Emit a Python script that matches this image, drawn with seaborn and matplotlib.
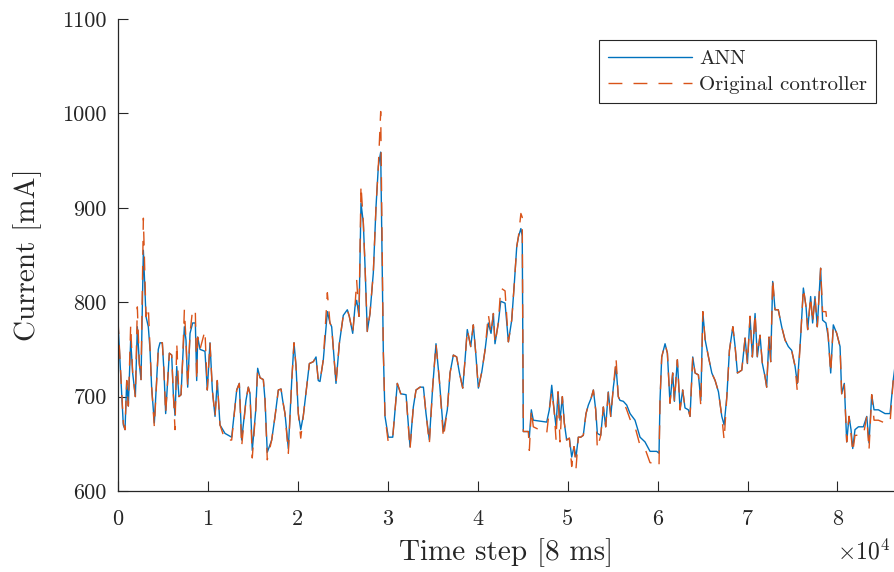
import matplotlib
matplotlib.use("Agg")
import matplotlib.pyplot as plt
import seaborn as sns
import pandas as pd

# ---------------- data ----------------
time_steps = [
    0, 590, 780, 970, 1150, 1410, 1630, 1930, 2150, 2370,
    2560, 2820, 3110, 3370, 3560, 3740, 4040, 4480, 4670, 4930,
    5120, 5300, 5710, 5970, 6150, 6340, 6530, 6780, 7010, 7190,
    7380, 7560, 7750, 8010, 8300, 8600, 8750, 8860, 9120, 9670,
    9930, 10230, 10490, 10790, 11040, 11340, 11900, 12640, 13200, 13490,
    13750, 14230, 14490, 14680, 14930, 15310, 15530, 15790, 16160, 16350,
    16600, 17090, 17460, 17830, 18130, 18310, 18570, 18940, 19320, 19570,
    19790, 20050, 20320, 20610, 20980, 21280, 21720, 22020, 22270, 22460,
    22830, 23280, 23570, 23760, 24240, 24610, 25050, 25500, 25720, 26100,
    26350, 26540, 26800, 27020, 27280, 27470, 27720, 28020, 28390, 28690,
    28950, 29210, 29500, 29690, 30060, 30550, 31060, 31440, 32030, 32470,
    32840, 33140, 33580, 33960, 34250, 34620, 34990, 35360, 35730, 36180,
    36620, 36920, 37290, 37660, 37950, 38330, 38590, 38840, 39220, 39510,
    39780, 40070, 40450, 40810, 41180, 41480, 41740, 41920, 42290, 42560,
    43040, 43410, 43780, 44070, 44340, 44520, 44800, 44950, 45070, 45630,
    45740, 45960, 46180, 47670, 47960, 48230, 48490, 48710, 48930, 49150,
    49410, 49630, 49890, 50190, 50450, 50710, 50930, 51190, 51450, 51740,
    52040, 52300, 52600, 52860, 53120, 53300, 53680, 53970, 54230, 54520,
    54790, 55080, 55380, 55630, 55820, 56190, 56570, 56940, 57490, 58050,
    58600, 59160, 59900, 60160, 60270, 60460, 60830, 61090, 61380, 61680,
    61870, 62200, 62500, 62790, 63050, 63420, 63610, 63910, 64170, 64540,
    64810, 65030, 65290, 65660, 66030, 66400, 66770, 67140, 67400, 67700,
    67990, 68370, 68620, 68880, 69360, 69730, 69990, 70280, 70540, 70840,
    71090, 71390, 71650, 71950, 72130, 72390, 72580, 72800, 73060, 73420,
    73800, 74170, 74540, 74910, 75290, 75540, 75920, 76210, 76510, 76690,
    77020, 77240, 77500, 77760, 78130, 78350, 78720, 78980, 79250, 79540,
    79920, 80290, 80470, 80760, 81030, 81290, 81510, 81700, 81950, 82330,
    82880, 83260, 83510, 83810, 84070, 84550, 85290, 85850, 86210, 86400,
]

ann_current = [
    778, 670, 665, 717, 690, 760, 725, 700, 774, 735,
    718, 855, 785, 774, 750, 710, 672, 750, 757, 757,
    725, 682, 746, 744, 703, 680, 732, 700, 702, 739,
    774, 760, 710, 767, 778, 778, 717, 763, 750, 748,
    707, 757, 707, 679, 717, 670, 661, 657, 707, 714,
    654, 696, 710, 703, 643, 685, 730, 720, 718, 696,
    641, 654, 679, 707, 708, 696, 682, 645, 717, 757,
    733, 682, 665, 680, 710, 735, 737, 742, 717, 716,
    739, 790, 778, 774, 714, 756, 786, 792, 785, 767,
    795, 802, 785, 905, 884, 838, 769, 788, 831, 901,
    944, 959, 749, 679, 657, 657, 714, 703, 702, 647,
    689, 707, 710, 710, 682, 654, 710, 756, 718, 663,
    686, 725, 744, 742, 726, 709, 739, 771, 753, 776,
    746, 709, 726, 749, 778, 767, 788, 756, 778, 801,
    799, 758, 781, 820, 859, 869, 878, 870, 663, 663,
    657, 686, 675, 673, 686, 712, 686, 668, 705, 675,
    700, 672, 654, 656, 636, 647, 636, 657, 657, 659,
    682, 691, 698, 707, 686, 661, 659, 689, 668, 705,
    679, 710, 732, 700, 696, 695, 691, 682, 675, 657,
    652, 642, 642, 640, 696, 742, 756, 746, 693, 725,
    695, 739, 686, 707, 688, 686, 679, 742, 725, 723,
    696, 790, 760, 742, 725, 717, 705, 679, 670, 700,
    749, 774, 753, 725, 728, 762, 735, 785, 742, 788,
    742, 765, 735, 721, 710, 763, 737, 822, 792, 792,
    774, 760, 753, 749, 732, 714, 765, 815, 795, 771,
    806, 778, 806, 774, 836, 781, 778, 763, 725, 776,
    767, 753, 703, 714, 652, 679, 665, 645, 665, 668,
    668, 679, 651, 702, 686, 686, 682, 682, 718, 732,
]

original_current = [
    781, 672, 665, 717, 690, 776, 725, 700, 795, 735,
    718, 889, 785, 795, 750, 710, 668, 750, 757, 757,
    725, 682, 746, 744, 703, 665, 757, 700, 702, 739,
    792, 760, 710, 767, 793, 790, 717, 763, 750, 770,
    707, 757, 707, 679, 717, 670, 654, 654, 707, 714,
    647, 696, 710, 703, 635, 685, 730, 720, 718, 696,
    633, 654, 679, 707, 708, 696, 682, 640, 717, 757,
    733, 682, 656, 680, 710, 735, 737, 742, 717, 716,
    739, 810, 778, 774, 714, 756, 786, 792, 785, 767,
    795, 823, 785, 924, 884, 838, 769, 788, 831, 901,
    944, 1002, 749, 679, 651, 657, 714, 703, 702, 644,
    689, 707, 710, 710, 682, 650, 710, 756, 718, 656,
    686, 725, 744, 742, 726, 709, 739, 771, 753, 776,
    746, 709, 726, 749, 787, 767, 788, 756, 778, 815,
    812, 758, 781, 820, 859, 869, 894, 890, 663, 663,
    643, 686, 668, 661, 686, 705, 686, 654, 705, 652,
    700, 672, 654, 656, 626, 647, 624, 657, 657, 659,
    682, 691, 698, 707, 686, 645, 659, 689, 668, 705,
    679, 710, 741, 700, 696, 695, 686, 676, 668, 648,
    645, 630, 629, 626, 696, 742, 756, 746, 693, 725,
    695, 739, 686, 707, 688, 686, 679, 742, 725, 723,
    690, 790, 760, 742, 725, 717, 705, 679, 654, 700,
    749, 774, 753, 725, 728, 762, 735, 785, 742, 788,
    742, 765, 735, 721, 710, 763, 737, 825, 792, 792,
    774, 760, 753, 749, 732, 705, 765, 815, 795, 771,
    806, 778, 806, 774, 836, 790, 790, 763, 725, 776,
    767, 753, 703, 714, 652, 679, 660, 641, 659, 659,
    659, 679, 643, 702, 675, 675, 672, 672, 718, 732,
]

series_names = ["ANN", "Original controller"]
x_tick_values = [0, 10000, 20000, 30000, 40000, 50000, 60000, 70000, 80000]
x_tick_labels = ["0", "1", "2", "3", "4", "5", "6", "7", "8"]
y_tick_values = [600, 700, 800, 900, 1000, 1100]

# ---------------- style ----------------
sns.set_style("ticks")
plt.rcParams["font.family"] = ["cmr10", "DejaVu Serif"]
plt.rcParams["mathtext.fontset"] = "cm"
plt.rcParams["axes.formatter.use_mathtext"] = True
plt.rcParams["axes.unicode_minus"] = False

dark = "#262626"
blue = "#0072BD"
orange = "#D95319"

df = pd.DataFrame({
    "t": time_steps,
    series_names[0]: ann_current,
    series_names[1]: original_current,
})

fig = plt.figure(figsize=(8.95, 5.72), dpi=100)
ax = fig.add_axes([118 / 895, 81 / 572, 777 / 895, 472 / 572])

sns.lineplot(data=df, x="t", y=series_names[0], ax=ax, color=blue, lw=1.0,
             estimator=None, sort=False, label=series_names[0])
sns.lineplot(data=df, x="t", y=series_names[1], ax=ax, color=orange, lw=1.0,
             estimator=None, sort=False, label=series_names[1],
             linestyle=(0, (10, 8)))

ax.set_xlim(0, 86400)
ax.set_ylim(600, 1100)
ax.set_xticks(x_tick_values)
ax.set_xticklabels(x_tick_labels)
ax.set_yticks(y_tick_values)
ax.set_yticklabels([str(v) for v in y_tick_values])

for s in ["top", "right"]:
    ax.spines[s].set_visible(False)
for s in ["left", "bottom"]:
    ax.spines[s].set_color(dark)
    ax.spines[s].set_linewidth(0.9)

ax.tick_params(direction="in", length=7, width=0.8, colors=dark,
               labelsize=16)
ax.tick_params(axis="x", pad=13)
ax.tick_params(axis="y", pad=8)
ax.set_xlabel("Time step [8 ms]", fontsize=21, color=dark, labelpad=7)
ax.set_ylabel("Current [mA]", fontsize=21, color=dark, labelpad=15)

fig.text(0.994, 0.035, r"$\times10^{4}$", fontsize=17, color=dark,
         ha="right", va="center")

leg = ax.legend(loc="upper right", bbox_to_anchor=(0.976, 0.955),
                fontsize=15, frameon=True, fancybox=False,
                edgecolor=dark, handlelength=4.0, handletextpad=0.35,
                borderpad=0.45, labelspacing=0.35, borderaxespad=0)
leg.get_frame().set_linewidth(0.8)
leg.get_frame().set_alpha(1)

fig.savefig("out.png", dpi=100, facecolor="white")
